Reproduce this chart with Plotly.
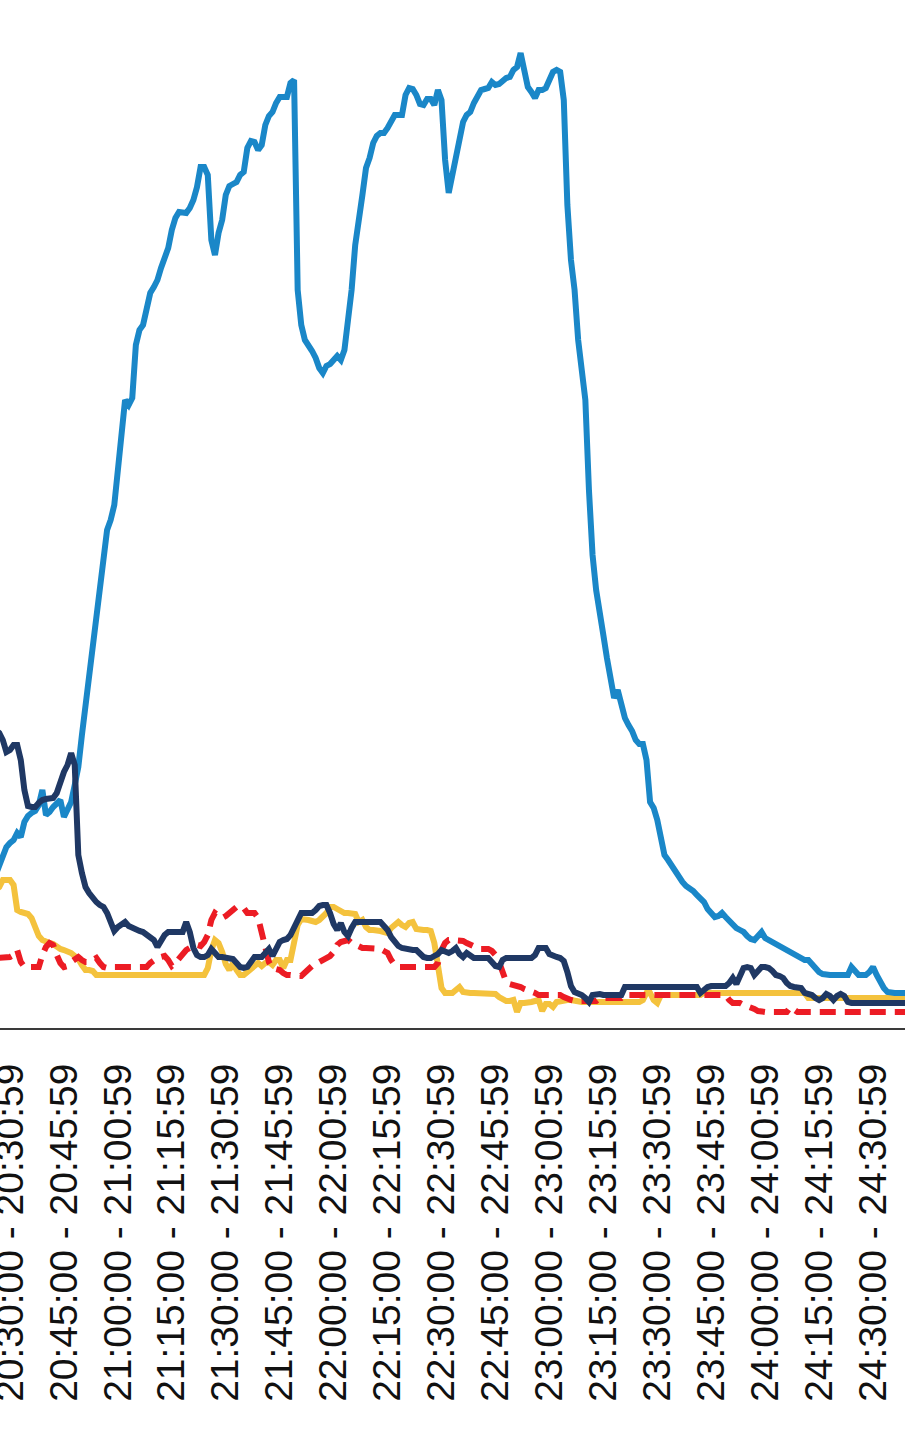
import plotly.graph_objects as go

# ---------------- data ----------------
START_MINUTE = 20 * 60 + 26          # first category 20:26
N_POINTS = 254                       # one category per minute, 20:26 ... 24:39


def minute_label(m):
    h, mm = divmod(m, 60)
    return f"{h:02d}:{mm:02d}:00 - {h:02d}:{mm:02d}:59"


CATEGORIES = [minute_label(START_MINUTE + i) for i in range(N_POINTS)]

TICK_LABELS = [
    "20:30:00 - 20:30:59", "20:45:00 - 20:45:59", "21:00:00 - 21:00:59",
    "21:15:00 - 21:15:59", "21:30:00 - 21:30:59", "21:45:00 - 21:45:59",
    "22:00:00 - 22:00:59", "22:15:00 - 22:15:59", "22:30:00 - 22:30:59",
    "22:45:00 - 22:45:59", "23:00:00 - 23:00:59", "23:15:00 - 23:15:59",
    "23:30:00 - 23:30:59", "23:45:00 - 23:45:59", "24:00:00 - 24:00:59",
    "24:15:00 - 24:15:59", "24:30:00 - 24:30:59",
]

BLUE = [
    153, 163, 173, 181,
    185, 188, 195, 191, 206, 212, 215, 217, 223, 238,
    213, 216, 221, 224, 228, 211, 219, 226, 243, 261,
    293, 323, 358, 388, 413, 448, 473, 498, 508, 523,
    558, 593, 628, 623, 630, 683, 698, 703, 723, 735,
    741, 748, 760, 770, 780, 798, 810, 816, 816, 815,
    820, 828, 841, 861, 861, 853, 788, 773, 795, 808,
    833, 842, 844, 846, 853, 856, 880, 887, 886, 878,
    883, 903, 912, 916, 925, 931, 931, 931, 945, 948,
    738, 703, 688, 683, 677, 670, 660, 655, 662, 664,
    668, 672, 668, 678, 708, 738, 783, 813, 833, 860,
    870, 885, 892, 895, 895, 900, 907, 913, 913, 913,
    933, 940, 939, 933, 924, 923, 929, 929, 923, 938,
    928, 868, 835, 852, 870, 885, 906, 913, 916, 925,
    933, 938, 939, 940, 946, 943, 944, 948, 950, 951,
    958, 961, 975, 958, 941, 936, 930, 938, 938, 940,
    948, 956, 958, 956, 928, 823, 768, 738, 688, 660,
    628, 538, 473, 438, 410, 393, 370, 348, 330, 338,
    322, 310, 303, 297, 288, 284, 284, 268, 226, 220,
    208, 191, 173, 168, 162, 158, 150, 146, 142, 140,
    137, 133, 130, 126, 119, 114, 111, 112, 115, 111,
    107, 104, 100, 98, 96, 92, 89, 88, 93, 96,
    90, 88, 86, 84, 81, 80, 78, 76, 74, 72,
    70, 68, 68, 64, 59, 56, 54, 53, 53, 53,
    53, 53, 53, 53, 61, 56, 53, 53, 53, 56,
    61, 53, 45, 40, 36, 35, 35, 35, 35, 35,
]

NAVY = [
    298, 295, 288, 276,
    278, 283, 283, 268, 238, 222, 221, 221, 225, 228,
    229, 230, 230, 235, 246, 256, 263, 275, 263, 173,
    155, 141, 135, 130, 126, 123, 121, 115, 106, 97,
    101, 104, 106, 102, 100, 98, 97, 96, 93, 90,
    88, 81, 88, 93, 96, 96, 96, 96, 96, 106,
    96, 80, 73, 71, 71, 73, 79, 75, 71, 71,
    70, 70, 69, 65, 61, 60, 61, 66, 71, 71,
    71, 75, 79, 72, 78, 86, 88, 89, 93, 100,
    110, 115, 115, 115, 115, 118, 122, 123, 123, 115,
    104, 98, 105, 96, 92, 100, 106, 106, 106, 106,
    106, 106, 106, 106, 102, 98, 91, 86, 82, 80,
    79, 78, 78, 78, 74, 71, 70, 70, 72, 74,
    78, 77, 75, 77, 80, 74, 71, 75, 72, 70,
    70, 70, 70, 70, 66, 62, 61, 68, 70, 70,
    70, 70, 70, 70, 70, 70, 73, 80, 80, 80,
    74, 72, 71, 70, 67, 56, 42, 36, 35, 33,
    30, 26, 33, 34, 34, 33, 33, 33, 33, 33,
    33, 41, 41, 41, 41, 41, 41, 41, 41, 41,
    41, 41, 41, 41, 41, 41, 41, 41, 41, 41,
    41, 41, 35, 38, 41, 42, 42, 42, 42, 42,
    45, 50, 44, 53, 60, 61, 60, 53, 58, 61,
    61, 60, 57, 53, 52, 50, 45, 42, 41, 41,
    40, 35, 34, 33, 30, 28, 30, 34, 32, 28,
    32, 34, 32, 26, 25, 25, 25, 25, 25, 25,
    25, 25, 25, 25, 25, 25, 25, 25, 25, 25,
]

YELLOW = [
    138, 141, 148, 148,
    148, 143, 118, 116, 115, 114, 110, 100, 92, 88,
    86, 85, 84, 81, 79, 78, 77, 75, 72, 69,
    63, 58, 58, 57, 53, 53, 53, 53, 53, 53,
    53, 53, 53, 53, 53, 53, 53, 53, 53, 53,
    53, 53, 53, 53, 53, 53, 53, 53, 53, 53,
    53, 53, 53, 53, 53, 60, 78, 88, 85, 76,
    64, 58, 65, 58, 53, 53, 56, 58, 62, 65,
    62, 65, 66, 63, 68, 68, 60, 68, 68, 83,
    103, 109, 109, 108, 107, 106, 108, 111, 115, 121,
    121, 119, 117, 115, 115, 115, 114, 106, 108, 101,
    98, 98, 98, 97, 96, 95, 100, 104, 106, 103,
    101, 105, 106, 99, 98, 98, 98, 97, 85, 61,
    40, 35, 35, 35, 38, 41, 36, 35, 35, 35,
    35, 35, 35, 35, 35, 34, 31, 29, 27, 27,
    28, 16, 25, 25, 25, 26, 27, 28, 17, 24,
    24, 21, 26, 27, 28, 28, 28, 27, 26, 26,
    26, 26, 26, 26, 26, 26, 26, 26, 26, 26,
    26, 26, 26, 26, 26, 26, 28, 35, 35, 28,
    25, 33, 33, 33, 33, 33, 33, 33, 33, 33,
    33, 33, 33, 35, 35, 35, 35, 35, 35, 35,
    35, 35, 35, 35, 35, 35, 35, 35, 35, 35,
    35, 35, 35, 35, 35, 35, 35, 35, 35, 35,
    35, 35, 30, 30, 30, 30, 30, 30, 30, 30,
    30, 30, 30, 30, 30, 30, 30, 30, 30, 30,
    30, 30, 30, 30, 30, 30, 30, 30, 30, 30,
]

RED = [
    70, 70, 70, 71,
    71, 73, 78, 66, 61, 61, 61, 61, 61, 73,
    81, 85, 83, 73, 65, 61, 62, 66, 68, 71,
    68, 66, 66, 68, 70, 65, 61, 60, 61, 61,
    61, 61, 61, 61, 61, 61, 61, 61, 61, 65,
    68, 70, 71, 72, 68, 62, 65, 70, 73, 78,
    80, 81, 83, 82, 86, 93, 108, 115, 112, 110,
    112, 115, 118, 121, 122, 120, 115, 115, 115, 110,
    96, 83, 66, 60, 59, 58, 55, 53, 53, 52,
    52, 52, 56, 60, 62, 64, 66, 68, 70, 72,
    76, 83, 86, 87, 88, 85, 83, 81, 80, 80,
    80, 79, 79, 79, 77, 75, 68, 63, 61, 61,
    61, 61, 61, 61, 61, 61, 61, 61, 61, 65,
    78, 85, 88, 88, 88, 88, 87, 85, 83, 81,
    80, 79, 79, 79, 77, 73, 66, 56, 46, 44,
    43, 43, 41, 39, 38, 36, 35, 33, 33, 33,
    33, 33, 33, 33, 31, 29, 28, 27, 27, 27,
    27, 27, 27, 27, 30, 30, 30, 30, 30, 30,
    30, 33, 33, 33, 33, 33, 33, 33, 33, 33,
    33, 33, 33, 33, 33, 33, 33, 33, 33, 33,
    33, 33, 33, 33, 33, 33, 33, 33, 33, 33,
    28, 25, 25, 25, 23, 22, 20, 19, 17, 16,
    16, 16, 16, 16, 16, 16, 16, 21, 18, 16,
    16, 16, 16, 16, 16, 16, 16, 16, 16, 16,
    16, 16, 16, 16, 16, 16, 16, 16, 16, 16,
    16, 16, 16, 16, 16, 16, 16, 16, 16, 16,
]

for name, s in (("BLUE", BLUE), ("NAVY", NAVY), ("YELLOW", YELLOW), ("RED", RED)):
    if len(s) != N_POINTS:
        raise ValueError(f"{name} has {len(s)} values, expected {N_POINTS}")

# ---------------- figure ----------------
fig = go.Figure()
series = [
    (YELLOW, dict(color="#f4c23d", width=6)),
    (RED, dict(color="#ec1c24", width=6, dash="16px,9px")),
    (BLUE, dict(color="#1a87c8", width=6)),
    (NAVY, dict(color="#1f3864", width=6)),
]
for values, line in series:
    fig.add_trace(go.Scatter(x=CATEGORIES, y=values, mode="lines", line=line,
                             hoverinfo="skip", showlegend=False))

fig.update_layout(
    width=905, height=1440,
    margin=dict(l=0, r=0, t=0, b=412, pad=0),
    paper_bgcolor="white", plot_bgcolor="white",
    showlegend=False,
    xaxis=dict(
        type="category", categoryorder="array", categoryarray=CATEGORIES,
        tickmode="array", tickvals=TICK_LABELS, ticktext=TICK_LABELS,
        tickangle=-90, ticks="", ticklabelstandoff=18,
        tickfont=dict(family="Liberation Sans, Arial, sans-serif", size=39, color="#111111"),
        showline=True, linecolor="#3a3a3a", linewidth=2, mirror=False,
        showgrid=False, zeroline=False, automargin=False,
        range=[1.22, 252.89],
    ),
    yaxis=dict(range=[0, 1028], visible=False, showgrid=False, zeroline=False,
               automargin=False),
)

fig.write_html("out.html")
